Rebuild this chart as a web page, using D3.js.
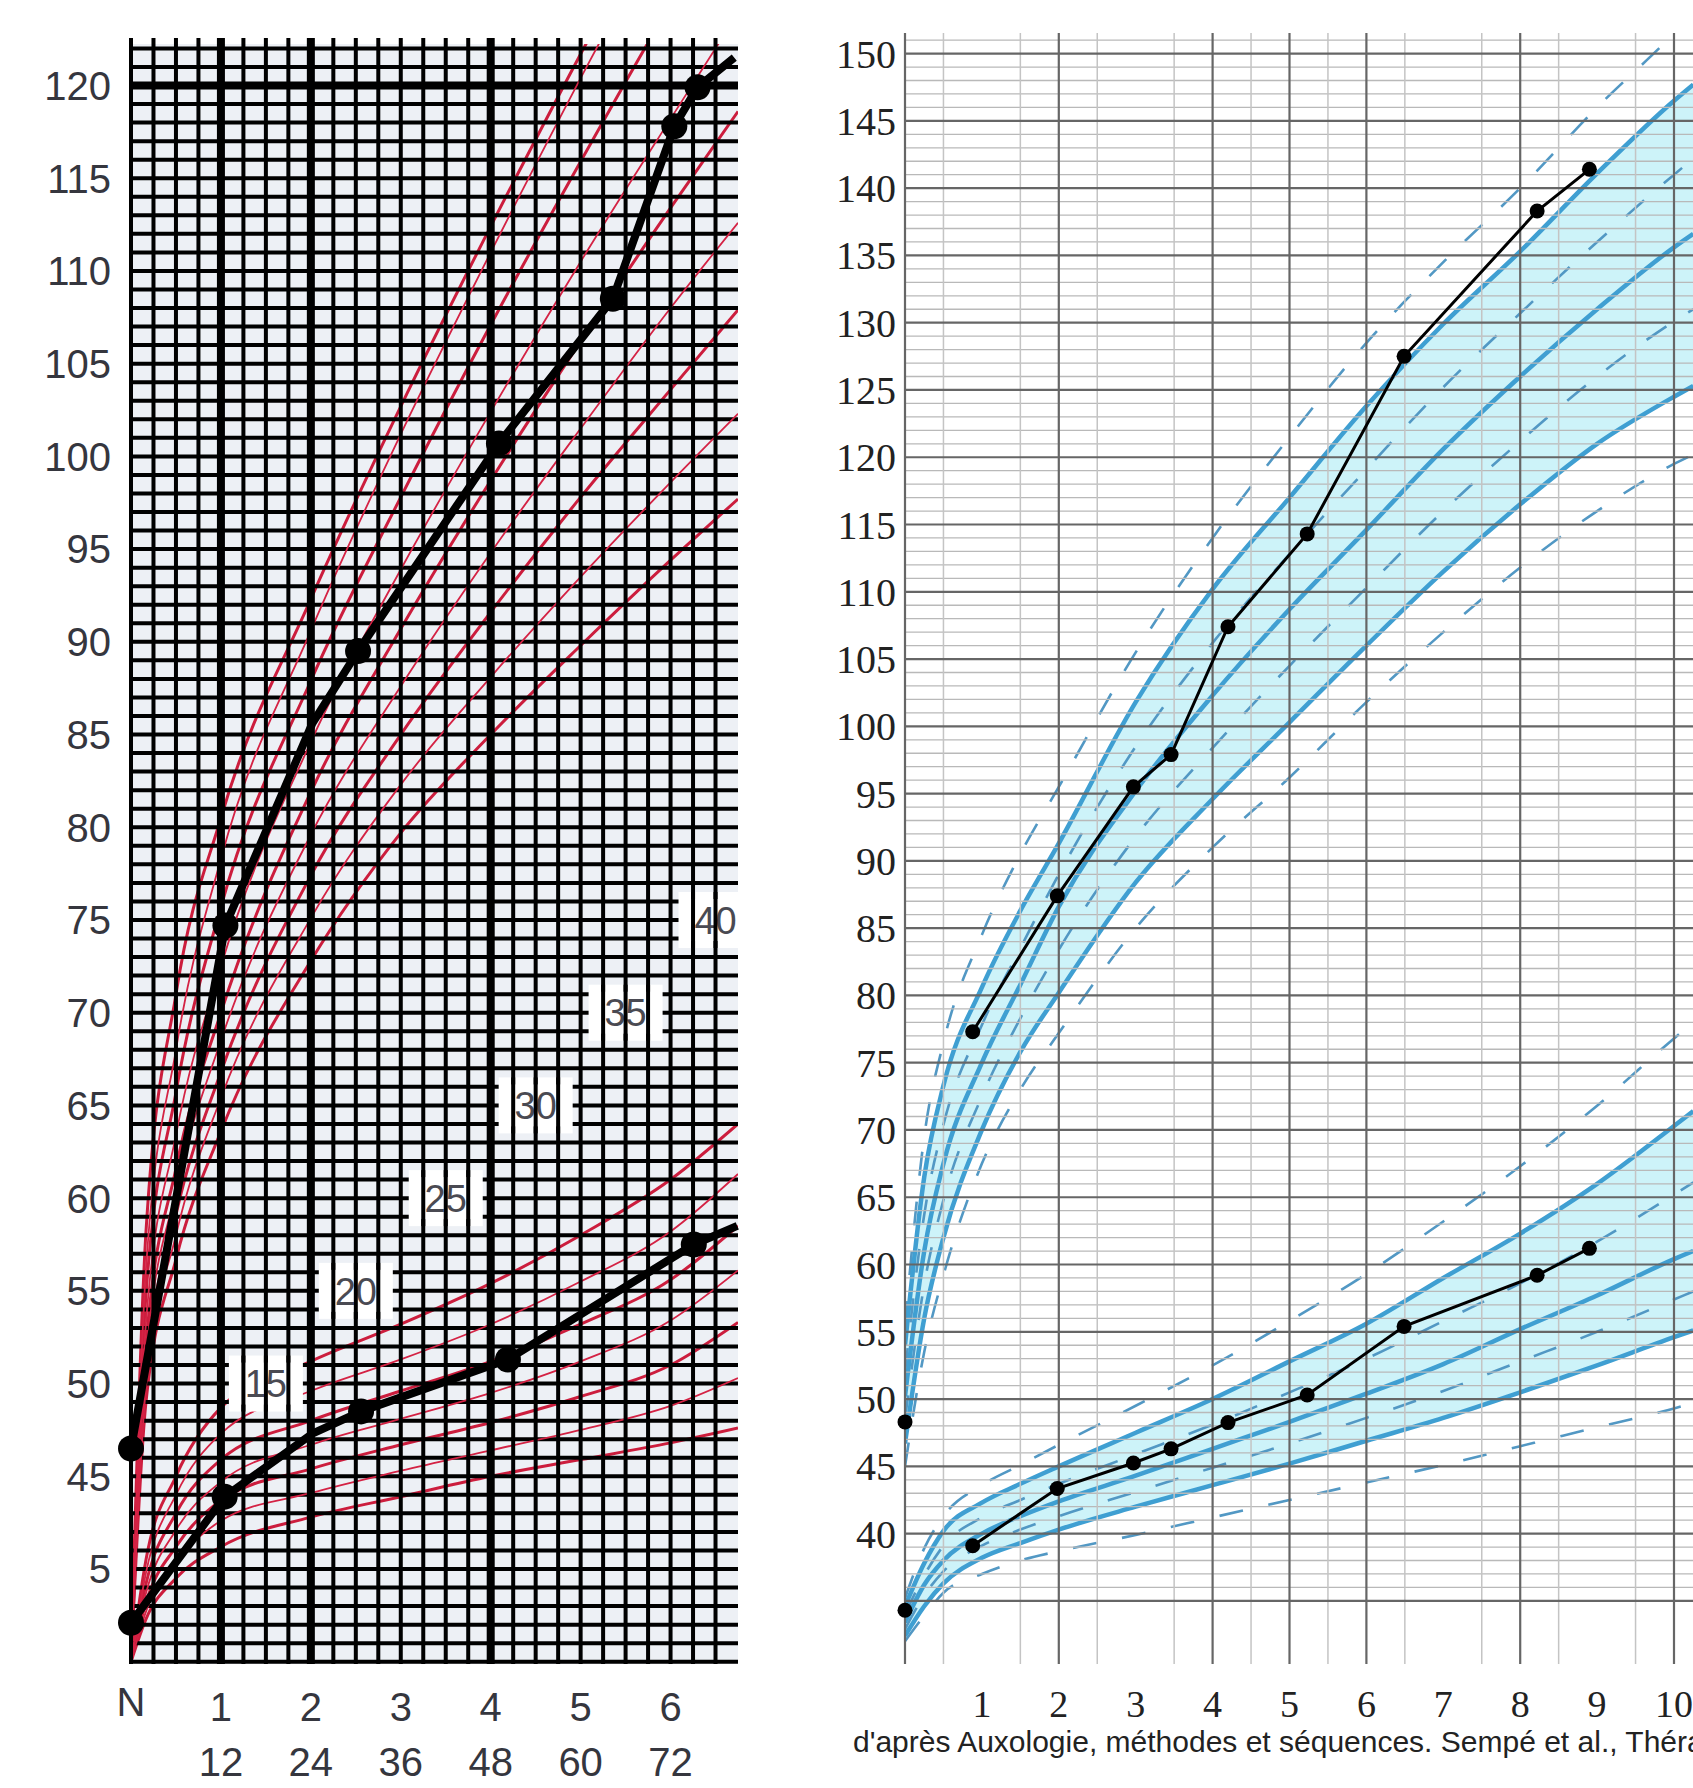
<!DOCTYPE html>
<html>
<head>
<meta charset="utf-8">
<script src="https://cdn.jsdelivr.net/npm/d3@7"></script>
<style>
  body { margin: 0; background: #fff; }
  svg { display: block; }
</style>
</head>
<body>
<svg id="chart" width="1693" height="1788"></svg>
<script>
//////////////////////////////////////////////////////////////////////////////////////////
// DATA //////////////////////////////////////////////////////////////////////////////////
//////////////////////////////////////////////////////////////////////////////////////////

// left chart : age in months, red reference curves
var leftMonths = [0, 2, 6, 12, 24, 36, 48, 60, 72, 81];
var redUpper1 = [35, 58.2, 71, 80.5, 92.3, 102.7, 112.4, 121.7, 130.7, 137.5];
var redUpper2 = [35, 56.2, 68, 78.3, 90.6, 101.2, 111, 120.4, 129.5, 136.1];
var redUpper3 = [35, 54.8, 65.7, 75.7, 87.9, 97.8, 107.1, 115.9, 124.4, 130.5];
var redUpper4 = [35, 53.3, 63.4, 72.5, 84.6, 93.9, 102.4, 110.5, 118.2, 123.9];
var redUpper5 = [35, 52.1, 61.6, 70, 81.9, 90.7, 98.7, 106.2, 113.4, 118.6];
var redUpper6 = [35, 51.4, 60.4, 68.5, 79.6, 87.6, 94.8, 101.5, 108, 112.6];
var redUpper7 = [35, 50.6, 59.1, 66.8, 77.4, 85, 91.6, 97.8, 103.6, 107.9];
var redUpper8 = [35, 49.8, 58, 65.4, 75.1, 82.3, 88.1, 93.5, 98.6, 102.3];
var redUpper9 = [35, 49, 56.7, 63.6, 72.8, 79.7, 85, 89.8, 94.4, 97.7];
var redLower1 = [35, 40.5, 45, 48.7, 51.2, 53.2, 55.4, 58, 61, 64];
var redLower2 = [35, 39.8, 44, 47.3, 49.6, 51.3, 53.2, 55.5, 58.2, 61.3];
var redLower3 = [35, 39.2, 43, 45.9, 48, 49.6, 51.2, 53.2, 55.6, 58.5];
var redLower4 = [35, 38.7, 42.1, 44.7, 46.7, 48.1, 49.5, 51.2, 53.4, 56.1];
var redLower5 = [35, 38.2, 41.2, 43.7, 45.4, 46.7, 47.9, 49.3, 51, 53.3];
var redLower6 = [35, 37.7, 40.4, 42.6, 44.1, 45.3, 46.4, 47.5, 48.8, 50.3];
var redLower7 = [35, 37.3, 39.5, 41.2, 42.8, 43.9, 45, 45.9, 46.8, 47.6];

// left chart : child measurements (marked = visit with a dot, others are bends of the line)
var heightMonths = [0, 12.6, 24.2, 30.3, 49.1, 64.3, 72.5, 75.6, 80.5];
var heightValues = [46.5, 74.7, 85.6, 89.5, 100.7, 108.5, 117.8, 119.9, 121.5];
var heightMarked = [true, true, false, true, true, true, true, true, false];
var headMonths = [0, 12.5, 24.2, 30.7, 50.3, 75.1, 80.9];
var headValues = [37.1, 43.9, 47.3, 48.5, 51.3, 57.5, 58.5];
var headMarked = [true, true, false, true, true, true, false];

// left chart : labels
var leftYTicks = [120, 115, 110, 105, 100, 95, 90, 85, 80, 75, 70, 65, 60, 55, 50, 45, 40];
var leftYLabels = ["120", "115", "110", "105", "100", "95", "90", "85", "80", "75", "70", "65", "60", "55", "50", "45", "5"];
var leftXYears = [0, 1, 2, 3, 4, 5, 6];
var leftXLabels = ["N", "1", "2", "3", "4", "5", "6"];
var leftXMonthLabels = ["", "12", "24", "36", "48", "60", "72"];
var zoneLabels = ["15", "20", "25", "30", "35", "40"];
var zoneMonths = [18, 30, 42, 54, 66, 78];
var zoneValues = [50, 55, 60, 65, 70, 75];

// right chart : age in years, reference curves (upper = height, lower = weight)
var rightAges = [0, 0.25, 0.5, 1, 1.5, 2, 3, 4, 5, 6, 7, 8, 9, 10, 10.25];
var hPlus3  = [55.5, 69.5, 76.5, 84.5, 90.5, 95.5, 105.5, 114, 121.5, 128.5, 134.5, 140, 146, 151.5, 153];
var hPlus2  = [54, 66.5, 73.3, 80.6, 86.3, 91.3, 101.8, 110.2, 117, 123.8, 129.9, 135.3, 141.1, 146.5, 147.7];
var hPlus1  = [52, 63.7, 70.4, 77.8, 83.5, 89, 98.5, 106.2, 112.8, 119.1, 125.2, 130.7, 136, 141, 142.2];
var hMean   = [50.2, 61, 67.5, 75, 80.8, 86.6, 95.2, 102.3, 108.7, 114.6, 120.6, 126, 131, 135.6, 136.6];
var hMinus1 = [48.5, 58.5, 64.8, 72.5, 78.3, 83.4, 91.8, 98.4, 104.5, 110.3, 116, 121.2, 126, 130.1, 131];
var hMinus2 = [46.7, 56, 62, 70, 75.8, 80.2, 88.4, 94.6, 100.3, 106, 111.5, 116.5, 121, 124.5, 125.3];
var hMinus3 = [45, 53.5, 59.2, 67.5, 73, 77.2, 85, 91, 96.2, 101.8, 107, 111.8, 116, 119.5, 120.2];
var wPlus3  = [35.2, 38.9, 41.3, 43.6, 45.1, 46.6, 49.5, 52.5, 55.8, 59.3, 63.2, 67.3, 71.8, 76.8, 78];
var wPlus2  = [34.6, 37.8, 40.2, 42.3, 43.7, 45, 47.5, 50, 52.8, 55.6, 59, 62.3, 66, 70.3, 71.4];
var wPlus1  = [34, 36.9, 39.1, 41.2, 42.5, 43.7, 45.9, 48.1, 50.5, 53, 55.8, 58.6, 61.7, 65.2, 66.1];
var wMean   = [33.4, 36.2, 38, 40, 41.3, 42.4, 44.3, 46.3, 48.3, 50.4, 52.6, 55.2, 57.7, 60.4, 61];
var wMinus1 = [32.9, 35.4, 37.2, 39.1, 40.3, 41.3, 43.1, 44.9, 46.7, 48.6, 50.6, 52.8, 55, 57.4, 58];
var wMinus2 = [32.4, 34.6, 36.3, 38.2, 39.3, 40.3, 42, 43.6, 45.2, 46.9, 48.6, 50.5, 52.5, 54.6, 55.1];
var wMinus3 = [32, 33.9, 35.6, 37, 38, 38.7, 39.9, 41.2, 42.5, 43.8, 45.1, 46.5, 47.9, 49.3, 49.7];

// right chart : child measurements (the birth point stands alone)
var childAges = [0, 0.88, 1.98, 2.97, 3.46, 4.2, 5.23, 6.49, 8.22, 8.9];
var childHeight = [48.3, 77.3, 87.4, 95.5, 97.9, 107.4, 114.3, 127.5, 138.3, 141.4];
var childWeight = [34.3, 39.1, 43.35, 45.25, 46.3, 48.25, 50.3, 55.4, 59.2, 61.2];

// right chart : grid and labels
var rightMajorAges = [0, 2, 4, 5, 6, 8, 10];
var rightMinorAges = [0.5, 1.5, 2.5, 3.5, 4.5, 5.5, 6.5, 7.5, 8.5, 9.5];
var rightYTicks = d3.range(40, 151, 5);
var rightXTicks = [1, 2, 3, 4, 5, 6, 7, 8, 9, 10];
var caption = "d'après Auxologie, méthodes et séquences. Sempé et al., Théraplix";

//////////////////////////////////////////////////////////////////////////////////////////
// LEFT CHART ////////////////////////////////////////////////////////////////////////////
//////////////////////////////////////////////////////////////////////////////////////////

var svg = d3.select("#chart");
var defs = svg.append("defs");

var lx = d3.scaleLinear().domain([0, 81]).range([131, 738]);
var ly = d3.scaleLinear().domain([40, 120]).range([1569, 85.5]);
var gridTop = 44, gridBottom = 1664;

defs.append("clipPath").attr("id", "leftClip")
  .append("rect").attr("x", lx(0)).attr("y", gridTop)
  .attr("width", lx(81) - lx(0)).attr("height", gridBottom - gridTop);

var left = svg.append("g");
left.append("rect")
  .attr("x", lx(0)).attr("y", gridTop)
  .attr("width", lx(81) - lx(0)).attr("height", gridBottom - gridTop)
  .attr("fill", "#edf0f5");

var redLine = d3.line()
  .x(function(d, i) { return lx(leftMonths[i]); })
  .y(function(d) { return ly(d); })
  .curve(d3.curveMonotoneX);

var redUnder = [redUpper1, redUpper3, redUpper5, redUpper7, redUpper9,
                redLower1, redLower3, redLower5, redLower7];
var redOver = [redUpper2, redUpper4, redUpper6, redUpper8,
               redLower2, redLower4, redLower6];

var leftClipped = left.append("g").attr("clip-path", "url(#leftClip)");

// red curves that sit under the black grid (look dashed through the cells)
leftClipped.selectAll(".redUnder").data(redUnder).enter().append("path")
  .attr("d", redLine)
  .attr("fill", "none")
  .attr("stroke", "#cc1d3d")
  .attr("stroke-width", 3);

// grid
var hLines = d3.range(35, 123);
leftClipped.selectAll(".hl").data(hLines).enter().append("line")
  .attr("x1", lx(0)).attr("x2", lx(81))
  .attr("y1", function(d) { return ly(d); }).attr("y2", function(d) { return ly(d); })
  .attr("stroke", "#000")
  .attr("stroke-width", function(d) { return d === 120 ? 8 : 4; });

var vLines = d3.range(0, 79, 3);
left.selectAll(".vl").data(vLines).enter().append("line")
  .attr("x1", function(d) { return lx(d); }).attr("x2", function(d) { return lx(d); })
  .attr("y1", 38).attr("y2", gridBottom)
  .attr("stroke", "#000")
  .attr("stroke-width", function(d) { return (d === 12 || d === 24 || d === 48) ? 8 : 4; });

// thin red curves drawn over the grid
leftClipped.selectAll(".redOver").data(redOver).enter().append("path")
  .attr("d", redLine)
  .attr("fill", "none")
  .attr("stroke", "#d42244")
  .attr("stroke-width", 1.8);

// white label boxes with grid stubs
var boxW = 74, boxH = 56;
zoneLabels.forEach(function(lbl, i) {
  var cx = lx(zoneMonths[i]), cy = ly(zoneValues[i]);
  var g = leftClipped.append("g");
  g.append("rect")
    .attr("x", cx - boxW / 2).attr("y", cy - boxH / 2)
    .attr("width", boxW).attr("height", boxH)
    .attr("fill", "#fff");
  vLines.forEach(function(m) {
    var x = lx(m);
    if (x > cx - boxW / 2 + 4 && x < cx + boxW / 2 - 4) {
      g.append("line").attr("x1", x).attr("x2", x)
        .attr("y1", cy - boxH / 2).attr("y2", cy - boxH / 2 + 7)
        .attr("stroke", "#000").attr("stroke-width", 4);
      g.append("line").attr("x1", x).attr("x2", x)
        .attr("y1", cy + boxH / 2 - 7).attr("y2", cy + boxH / 2)
        .attr("stroke", "#000").attr("stroke-width", 4);
    }
  });
  g.append("text")
    .attr("x", cx).attr("y", cy).attr("dy", "0.36em")
    .attr("text-anchor", "middle")
    .attr("font-family", "Liberation Sans, Arial, sans-serif")
    .attr("font-size", 38)
    .attr("fill", "#4a4a52")
    .text(lbl);
});

// measured series
var blackLine = d3.line()
  .x(function(d) { return lx(d[0]); })
  .y(function(d) { return ly(d[1]); });

var heightPts = d3.zip(heightMonths, heightValues, heightMarked);
var headPts = d3.zip(headMonths, headValues, headMarked);

[heightPts, headPts].forEach(function(pts) {
  left.append("path")
    .attr("d", blackLine(pts))
    .attr("fill", "none")
    .attr("stroke", "#000")
    .attr("stroke-width", 8)
    .attr("stroke-linejoin", "round");
  left.selectAll(null).data(pts.filter(function(d) { return d[2]; })).enter().append("circle")
    .attr("cx", function(d) { return lx(d[0]); })
    .attr("cy", function(d) { return ly(d[1]); })
    .attr("r", 13)
    .attr("fill", "#000");
});

// axis labels
left.selectAll(".ylab").data(leftYTicks).enter().append("text")
  .attr("x", 111)
  .attr("y", function(d) { return ly(d); })
  .attr("dy", "0.36em")
  .attr("text-anchor", "end")
  .attr("font-family", "Liberation Sans, Arial, sans-serif")
  .attr("font-size", 40)
  .attr("fill", "#35363e")
  .text(function(d, i) { return leftYLabels[i]; });

left.selectAll(".xlab").data(leftXYears).enter().append("text")
  .attr("x", function(d) { return lx(d * 12); })
  .attr("y", function(d) { return d === 0 ? 1702 : 1707; })
  .attr("dy", "0.36em")
  .attr("text-anchor", "middle")
  .attr("font-family", "Liberation Sans, Arial, sans-serif")
  .attr("font-size", 40)
  .attr("fill", "#35363e")
  .text(function(d, i) { return leftXLabels[i]; });

left.selectAll(".xlab2").data(leftXYears).enter().append("text")
  .attr("x", function(d) { return lx(d * 12); })
  .attr("y", 1762)
  .attr("dy", "0.36em")
  .attr("text-anchor", "middle")
  .attr("font-family", "Liberation Sans, Arial, sans-serif")
  .attr("font-size", 40)
  .attr("fill", "#35363e")
  .text(function(d, i) { return leftXMonthLabels[i]; });

//////////////////////////////////////////////////////////////////////////////////////////
// RIGHT CHART ///////////////////////////////////////////////////////////////////////////
//////////////////////////////////////////////////////////////////////////////////////////

var rx = d3.scaleLinear().domain([0, 10]).range([905, 1674]);
var ry = d3.scaleLinear().domain([40, 150]).range([1533.6, 53.6]);
var rTop = 33, rBottom = 1664, rRight = 1693;

defs.append("clipPath").attr("id", "rightClip")
  .append("rect").attr("x", rx(0)).attr("y", rTop)
  .attr("width", rRight - rx(0)).attr("height", rBottom - rTop);

var right = svg.append("g");
var rightClipped = right.append("g").attr("clip-path", "url(#rightClip)");

var band = d3.area()
  .x(function(d, i) { return rx(rightAges[i]); })
  .y0(function(d) { return ry(d[0]); })
  .y1(function(d) { return ry(d[1]); })
  .curve(d3.curveMonotoneX);

rightClipped.append("path")
  .attr("d", band(d3.zip(hMinus2, hPlus2)))
  .attr("fill", "#cdf3f9");
rightClipped.append("path")
  .attr("d", band(d3.zip(wMinus2, wPlus2)))
  .attr("fill", "#cdf3f9");

// grid
var rMinorH = d3.range(35, 152).filter(function(v) { return v % 5 !== 0; });
var rMajorH = d3.range(35, 151, 5);
right.selectAll(".rhm").data(rMinorH).enter().append("line")
  .attr("x1", rx(0)).attr("x2", rRight)
  .attr("y1", function(d) { return ry(d); }).attr("y2", function(d) { return ry(d); })
  .attr("stroke", "#b9b9b9").attr("stroke-width", 1.3);
right.selectAll(".rvm").data(rightMinorAges).enter().append("line")
  .attr("x1", function(d) { return rx(d); }).attr("x2", function(d) { return rx(d); })
  .attr("y1", rTop).attr("y2", rBottom)
  .attr("stroke", "#c4c4c4").attr("stroke-width", 1.5);
right.selectAll(".rhM").data(rMajorH).enter().append("line")
  .attr("x1", rx(0)).attr("x2", rRight)
  .attr("y1", function(d) { return ry(d); }).attr("y2", function(d) { return ry(d); })
  .attr("stroke", "#666").attr("stroke-width", 2.2);
right.selectAll(".rvM").data(rightMajorAges).enter().append("line")
  .attr("x1", function(d) { return rx(d); }).attr("x2", function(d) { return rx(d); })
  .attr("y1", rTop).attr("y2", rBottom)
  .attr("stroke", "#666").attr("stroke-width", 2.2);

// reference curves
var blueLine = d3.line()
  .x(function(d, i) { return rx(rightAges[i]); })
  .y(function(d) { return ry(d); })
  .curve(d3.curveMonotoneX);

var dashedCurves = [hPlus3, hPlus1, hMinus1, hMinus3, wPlus3, wPlus1, wMinus1, wMinus3];
var solidCurves = [hPlus2, hMean, hMinus2, wPlus2, wMean, wMinus2];

rightClipped.selectAll(".dash").data(dashedCurves).enter().append("path")
  .attr("d", blueLine)
  .attr("fill", "none")
  .attr("stroke", "#5298c4")
  .attr("stroke-width", 2.6)
  .attr("stroke-dasharray", "24,26");
rightClipped.selectAll(".solid").data(solidCurves).enter().append("path")
  .attr("d", blueLine)
  .attr("fill", "none")
  .attr("stroke", "#3f9fd2")
  .attr("stroke-width", 4.5);

// measured series : line joins the visits after birth, birth point is a lone marker
var childLine = d3.line()
  .x(function(d) { return rx(d[0]); })
  .y(function(d) { return ry(d[1]); });

[d3.zip(childAges, childHeight), d3.zip(childAges, childWeight)].forEach(function(pts) {
  right.append("path")
    .attr("d", childLine(pts.slice(1)))
    .attr("fill", "none")
    .attr("stroke", "#000")
    .attr("stroke-width", 3);
  right.selectAll(null).data(pts).enter().append("circle")
    .attr("cx", function(d) { return rx(d[0]); })
    .attr("cy", function(d) { return ry(d[1]); })
    .attr("r", 7.5)
    .attr("fill", "#000");
});

// labels
right.selectAll(".rylab").data(rightYTicks).enter().append("text")
  .attr("x", 896)
  .attr("y", function(d) { return ry(d); })
  .attr("dy", "0.35em")
  .attr("text-anchor", "end")
  .attr("font-family", "Liberation Serif, Times New Roman, serif")
  .attr("font-size", 40)
  .attr("fill", "#222")
  .text(function(d) { return d; });

right.selectAll(".rxlab").data(rightXTicks).enter().append("text")
  .attr("x", function(d) { return rx(d); })
  .attr("y", 1704)
  .attr("dy", "0.35em")
  .attr("text-anchor", "middle")
  .attr("font-family", "Liberation Serif, Times New Roman, serif")
  .attr("font-size", 38)
  .attr("fill", "#222")
  .text(function(d) { return d; });

// the source line runs off the right edge, as in the original scan
right.append("text")
  .attr("x", 853).attr("y", 1752)
  .attr("font-family", "Liberation Sans, Arial, sans-serif")
  .attr("font-size", 30)
  .attr("fill", "#222")
  .text(caption);
</script>
</body>
</html>
